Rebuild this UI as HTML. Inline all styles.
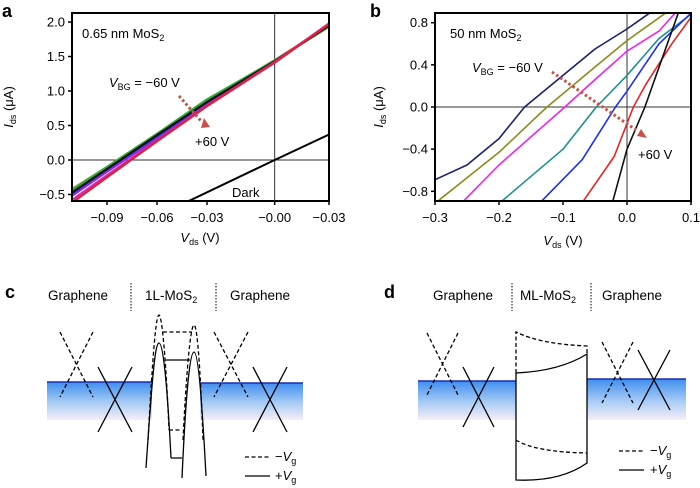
<!DOCTYPE html>
<html><head><meta charset="utf-8">
<style>
body{margin:0;background:#fff;}
svg{display:block;font-family:"Liberation Sans",Arial,sans-serif;}
</style></head>
<body>
<svg id="fig" width="700" height="488" viewBox="0 0 700 488" xmlns="http://www.w3.org/2000/svg">
<defs>
<linearGradient id="band" x1="0" y1="0" x2="0" y2="1">
<stop offset="0" stop-color="#3f8ef0"/><stop offset="0.55" stop-color="#a9cdf5"/><stop offset="1" stop-color="#f6eef8"/>
</linearGradient>
<clipPath id="clipA"><rect x="72" y="13" width="257" height="188"/></clipPath>
<clipPath id="clipB"><rect x="435" y="13" width="256" height="188"/></clipPath>
</defs>
<g id="panelA"></g>
<g id="panelB"></g>

<!-- panel c -->
<g>
<text x="5" y="298" font-size="18" font-weight="bold">c</text>
<text x="48" y="300" font-size="13.5">Graphene</text>
<line x1="131" y1="283" x2="131" y2="311" stroke="#000" stroke-dasharray="1.5,1.5"/>
<text x="145" y="300" font-size="13.5">1L-MoS<tspan font-size="9" dy="3">2</tspan></text>
<line x1="216" y1="283" x2="216" y2="311" stroke="#000" stroke-dasharray="1.5,1.5"/>
<text x="230" y="300" font-size="13.5">Graphene</text>
<rect x="47" y="382" width="105" height="38" fill="url(#band)"/>
<rect x="200" y="383" width="103" height="37" fill="url(#band)"/>
<line x1="47" y1="382" x2="152" y2="382" stroke="#1a2fb0" stroke-width="1.5"/>
<line x1="200" y1="383" x2="303" y2="383" stroke="#1a2fb0" stroke-width="1.5"/>
<g stroke="#000" stroke-width="1.3" fill="none">
<path d="M60,332 L93,397 M93,332 L60,397 M214,332 L248,397 M248,332 L214,397" stroke-dasharray="4,2.5"/>
<path d="M98,367 L132,432 M132,367 L98,432 M253,367 L287,432 M287,367 L253,432"/>
<path d="M148,440 C153,350 156,315 159,315 C162,315 166,360 169,430 M183,440 C187,360 191,325 194,325 C197,325 200,360 203,440 M163,332 L192,332 M169,430 L182,430" stroke-dasharray="4,2.5"/>
<path d="M146,468 C152,380 155,343 159,343 C163,343 167,380 171,458 M182,478 C186,390 190,352 194,352 C198,352 202,400 206,476 M166,360 L190,360 M171,458 L182,458"/>
<line x1="245" y1="457" x2="270" y2="457" stroke-dasharray="4,2.5"/>
<line x1="245" y1="476" x2="270" y2="476"/>
</g>
<text x="275" y="461" font-size="13">−<tspan font-style="italic">V</tspan><tspan font-size="9" dy="3">g</tspan></text>
<text x="275" y="480" font-size="13">+<tspan font-style="italic">V</tspan><tspan font-size="9" dy="3">g</tspan></text>
</g>

<!-- panel d -->
<g>
<text x="384" y="298" font-size="18" font-weight="bold">d</text>
<text x="433" y="300" font-size="13.5">Graphene</text>
<line x1="512" y1="283" x2="512" y2="311" stroke="#000" stroke-dasharray="1.5,1.5"/>
<text x="520" y="300" font-size="13.5">ML-MoS<tspan font-size="9" dy="3">2</tspan></text>
<line x1="591" y1="283" x2="591" y2="311" stroke="#000" stroke-dasharray="1.5,1.5"/>
<text x="602" y="300" font-size="13.5">Graphene</text>
<rect x="418" y="381" width="98" height="39" fill="url(#band)"/>
<rect x="587" y="379" width="99" height="41" fill="url(#band)"/>
<line x1="418" y1="381" x2="516" y2="381" stroke="#1a2fb0" stroke-width="1.5"/>
<line x1="587" y1="379" x2="686" y2="379" stroke="#1a2fb0" stroke-width="1.5"/>
<g stroke="#000" stroke-width="1.3" fill="none">
<path d="M427,333 L458,395 M458,333 L427,395 M602,342 L633,403 M633,342 L602,403" stroke-dasharray="4,2.5"/>
<path d="M463,367 L494,427 M494,367 L463,427 M638,350 L670,410 M670,350 L638,410"/>
<path d="M516,373 L516,332 Q540,344 587,346 L587,354 M516,440 Q535,452 587,453" stroke-dasharray="4,2.5"/>
<path d="M516,373 L516,480 Q560,482 587,463 L587,354 Q560,371 516,373"/>
<line x1="619" y1="451" x2="644" y2="451" stroke-dasharray="4,2.5"/>
<line x1="619" y1="470" x2="644" y2="470"/>
</g>
<text x="650" y="455" font-size="13">−<tspan font-style="italic">V</tspan><tspan font-size="9" dy="3">g</tspan></text>
<text x="650" y="474" font-size="13">+<tspan font-style="italic">V</tspan><tspan font-size="9" dy="3">g</tspan></text>
</g>
</svg>
<script>
// ---- Panel a data ----
const aX = [-0.111, -0.09, -0.06, -0.03, 0.0106, 0.0432];
const aOrange = [-0.42, -0.10, 0.38, 0.86, 1.45, 1.95];
const aGreen = [-0.43, -0.10, 0.38, 0.88, 1.44, 1.93];
const aBlue = [-0.50, -0.15, 0.33, 0.82, 1.43, 1.96];
const aPurple = [-0.52, -0.17, 0.31, 0.80, 1.42, 1.97];
const aBlack = [-0.47, -0.13, 0.36, 0.84, 1.43, 1.95];
const aMagenta = [-0.58, -0.22, 0.28, 0.79, 1.42, 1.98];
const aRed = [-0.62, -0.25, 0.27, 0.78, 1.41, 1.97];
const aDarkX = [-0.0414, 0.0106, 0.0432];
const aDarkY = [-0.60, 0.0, 0.37];
const aYTicks = [-0.5, 0.0, 0.5, 1.0, 1.5, 2.0];
const aYLabels = ["−0.5", "0.0", "0.5", "1.0", "1.5", "2.0"];
const aXTicks = [-0.09, -0.06, -0.03, 0.0106, 0.0432];
const aXLabels = ["−0.09", "−0.06", "−0.03", "−0.00", "−0.03"];
// ---- Panel b data ----
const bNavyX = [-0.3, -0.25, -0.2, -0.16, -0.1, -0.05, 0.0, 0.035];
const bNavyY = [-0.69, -0.55, -0.30, 0.0, 0.30, 0.55, 0.74, 0.89];
const bOliveX = [-0.295, -0.2, -0.125, -0.05, 0.0, 0.06];
const bOliveY = [-0.89, -0.43, 0.0, 0.38, 0.63, 0.89];
const bMagentaX = [-0.255, -0.2, -0.097, -0.05, 0.0, 0.05, 0.075];
const bMagentaY = [-0.89, -0.55, 0.0, 0.26, 0.53, 0.72, 0.89];
const bTealX = [-0.195, -0.1, -0.048, 0.0, 0.05, 0.1];
const bTealY = [-0.89, -0.40, 0.0, 0.30, 0.65, 0.88];
const bBlueX = [-0.133, -0.07, -0.018, 0.0, 0.05, 0.1];
const bBlueY = [-0.89, -0.50, 0.0, 0.15, 0.60, 0.89];
const bRedX = [-0.068, -0.02, 0.01, 0.03, 0.07, 0.1];
const bRedY = [-0.89, -0.47, 0.0, 0.22, 0.60, 0.85];
const bBlackX = [-0.022, 0.0, 0.028, 0.08];
const bBlackY = [-0.89, -0.40, 0.0, 0.89];
const bYTicks = [-0.8, -0.4, 0.0, 0.4, 0.8];
const bYLabels = ["−0.8", "−0.4", "0.0", "0.4", "0.8"];
const bXTicks = [-0.3, -0.2, -0.1, 0.0, 0.1];
const bXLabels = ["−0.3", "−0.2", "−0.1", "0.0", "0.1"];

const NS = "http://www.w3.org/2000/svg";
function mk(tag, attrs, parent){const e=document.createElementNS(NS,tag);for(const k in attrs)e.setAttribute(k,attrs[k]);parent.appendChild(e);return e;}
function lin(d0,d1,r0,r1){return v=>r0+(v-d0)/(d1-d0)*(r1-r0);}

function drawPanel(g, cfg){
  const {x0,x1,y0,y1,sx,sy,clip}=cfg;
  const zl1=mk("line",{x1:x0,x2:x1,y1:sy(0),y2:sy(0),stroke:"#333","stroke-width":1},g);
  
  
  const zl2=mk("line",{x1:sx(cfg.zeroX),x2:sx(cfg.zeroX),y1:y0,y2:y1,stroke:"#333","stroke-width":1},g);
  
  
  const sg=mk("g",{"clip-path":"url(#"+clip+")"},g);
  cfg.series.forEach(s=>{
    const pts=s.xs.map((x,i)=>sx(x).toFixed(1)+","+sy(s.ys[i]).toFixed(1)).join(" ");
    const p=mk("polyline",{points:pts,fill:"none",stroke:s.color,"stroke-width":s.w||1.6,"stroke-linejoin":"round"},sg);
    
    
  });
  const fr=mk("rect",{x:x0,y:y0,width:x1-x0,height:y1-y0,fill:"none",stroke:"#000","stroke-width":2},g);
  
  
  cfg.yTicks.forEach((v,i)=>{
    mk("line",{x1:x0-4,x2:x0,y1:sy(v),y2:sy(v),stroke:"#000","stroke-width":1.5},g);
    const t=mk("text",{x:x0-7,y:sy(v)+4.5,"font-size":13,"text-anchor":"end"},g);
    t.textContent=cfg.yLabels[i];
    
    
  });
  cfg.xTicks.forEach((v,i)=>{
    mk("line",{x1:sx(v),x2:sx(v),y1:y1,y2:y1+4,stroke:"#000","stroke-width":1.5},g);
    const t=mk("text",{x:sx(v),y:y1+21,"font-size":13,"text-anchor":"middle"},g);
    t.textContent=cfg.xLabels[i];
    
    
  });
}

const gA=document.getElementById("panelA");
const aSx=lin(-0.111,0.0432,72,329), aSy=lin(0,2.0,160,22);
const allA=[["orange","#e08a2a",aOrange],["green","#2fae3a",aGreen],["blue","#2233dd",aBlue],["purple","#8a2be2",aPurple],["black","#111",aBlack],["magenta","#d62aa8",aMagenta],["red","#e0203a",aRed]];
drawPanel(gA,{x0:72,x1:329,y0:13,y1:201,sx:aSx,sy:aSy,clip:"clipA",zeroX:0.0106,
  series:[{name:"dark-curve",color:"#000",xs:aDarkX,ys:aDarkY,w:2}].concat(allA.map(s=>({name:"series-"+s[0],color:s[1],xs:aX,ys:s[2],w:2.2}))),
  yTicks:aYTicks,yLabels:aYLabels,xTicks:aXTicks,xLabels:aXLabels});
const gB=document.getElementById("panelB");
const bSx=lin(-0.3,0.1,435,691), bSy=lin(0,0.8,107,22.7);
drawPanel(gB,{x0:435,x1:691,y0:13,y1:201,sx:bSx,sy:bSy,clip:"clipB",zeroX:0,
  series:[
   {name:"series-navy",color:"#1a1f6e",xs:bNavyX,ys:bNavyY},
   {name:"series-olive",color:"#8c8a1e",xs:bOliveX,ys:bOliveY},
   {name:"series-magenta",color:"#ee22ee",xs:bMagentaX,ys:bMagentaY},
   {name:"series-teal",color:"#1a9090",xs:bTealX,ys:bTealY},
   {name:"series-blue",color:"#1a2ff0",xs:bBlueX,ys:bBlueY},
   {name:"series-red",color:"#ee2222",xs:bRedX,ys:bRedY},
   {name:"series-black",color:"#111",xs:bBlackX,ys:bBlackY}],
  yTicks:bYTicks,yLabels:bYLabels,xTicks:bXTicks,xLabels:bXLabels});
</script>
<svg width="700" height="488" style="position:absolute;left:0;top:0;font-family:'Liberation Sans',Arial,sans-serif">
<text x="2" y="17" font-size="18" font-weight="bold">a</text>
<text x="82" y="38" font-size="13">0.65 nm MoS<tspan font-size="9" dy="3">2</tspan></text>
<text x="109" y="87" font-size="13"><tspan font-style="italic">V</tspan><tspan font-size="9" dy="3">BG</tspan><tspan dy="-3"> = −60 V</tspan></text>
<line x1="179" y1="96" x2="202" y2="122" stroke="#c8504a" stroke-width="3" stroke-dasharray="2.5,2.5"/>
<polygon points="201,128 210,127 204,118" fill="#c8504a"/>
<text x="195" y="146" font-size="13">+60 V</text>
<text x="232" y="197" font-size="13">Dark</text>
<text x="13" y="107" font-size="13" transform="rotate(-90 13 107)" text-anchor="middle"><tspan font-style="italic">I</tspan><tspan font-size="9" dy="3">ds</tspan><tspan dy="-3"> (μA)</tspan></text>
<text x="200" y="242" font-size="13" text-anchor="middle"><tspan font-style="italic">V</tspan><tspan font-size="9" dy="3">ds</tspan><tspan dy="-3"> (V)</tspan></text>

<text x="370" y="17" font-size="18" font-weight="bold">b</text>
<text x="450" y="38" font-size="13">50 nm MoS<tspan font-size="9" dy="3">2</tspan></text>
<text x="472" y="72" font-size="13"><tspan font-style="italic">V</tspan><tspan font-size="9" dy="3">BG</tspan><tspan dy="-3"> = −60 V</tspan></text>
<line x1="552" y1="72" x2="636" y2="130" stroke="#c8504a" stroke-width="3" stroke-dasharray="2.5,2.5"/>
<polygon points="637,136 647,138 641,129" fill="#c8504a"/>
<text x="638" y="159" font-size="13">+60 V</text>
<text x="383" y="107" font-size="13" transform="rotate(-90 383 107)" text-anchor="middle"><tspan font-style="italic">I</tspan><tspan font-size="9" dy="3">ds</tspan><tspan dy="-3"> (μA)</tspan></text>
<text x="563" y="245" font-size="13" text-anchor="middle"><tspan font-style="italic">V</tspan><tspan font-size="9" dy="3">ds</tspan><tspan dy="-3"> (V)</tspan></text>
</svg>
</body></html>
